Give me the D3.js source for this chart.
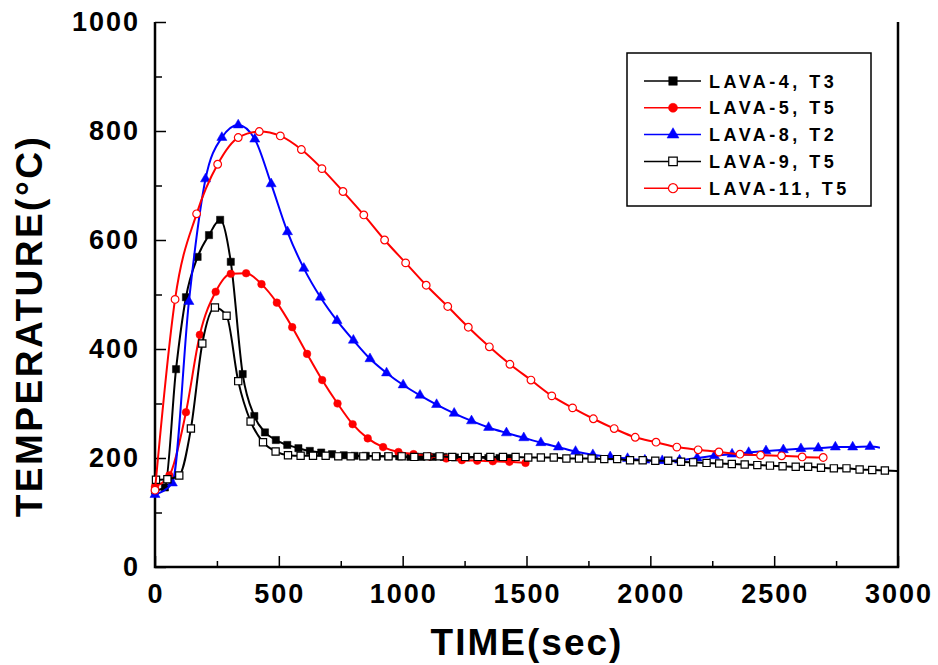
<!DOCTYPE html>
<html>
<head>
<meta charset="utf-8">
<script src="https://cdn.jsdelivr.net/npm/d3@7"></script>
<style>
  body { margin: 0; background: #fff; }
  svg { display: block; font-family: "Liberation Sans", Arial, sans-serif; font-weight: bold; }
</style>
</head>
<body>
<svg id="chart" width="938" height="665"></svg>
<script>
// values (time in sec, temperature in °C)
const lava4Time = [0, 40, 85, 125, 172, 218, 263, 306, 354, 401, 444, 488, 534, 579, 625, 671, 715, 762, 806, 851, 896, 941, 986, 1031, 1076, 1121, 1166, 1211, 1256, 1301, 1346, 1391, 1436];
const lava4Temp = [140, 146, 363, 495, 569, 609, 637, 560, 354, 277, 247, 233, 224, 218, 213, 210, 207, 205, 204, 204, 203, 203, 203, 202, 202, 202, 202, 201, 201, 201, 200, 200, 200];

const lava5Time = [0, 58, 125, 181, 245, 306, 368, 430, 492, 554, 614, 675, 737, 798, 859, 921, 983, 1044, 1106, 1176, 1239, 1301, 1364, 1431, 1496];
const lava5Temp = [148, 168, 284, 426, 505, 538, 539, 519, 485, 440, 391, 343, 300, 262, 236, 220, 211, 207, 203, 199, 196, 195, 194, 193, 191];

const lava8Time = [0, 70, 137, 204, 270, 336, 403, 469, 535, 601, 668, 735, 801, 868, 935, 1002, 1070, 1137, 1208, 1278, 1347, 1419, 1489, 1558, 1629, 1698, 1768, 1838, 1908, 1978, 2048, 2118, 2189, 2259, 2330, 2397, 2467, 2537, 2608, 2678, 2747, 2817, 2887, 2927];
const lava8Temp = [133, 154, 487, 712, 788, 811, 785, 703, 615, 548, 495, 452, 416, 382, 356, 334, 315, 298, 282, 268, 256, 246, 237, 228, 220, 212, 206, 202, 199, 196, 195, 196, 200, 204, 207, 210, 213, 215, 217, 218, 220, 220, 221, 219];

const lava9Time = [4, 50, 98, 145, 191, 242, 289, 336, 386, 436, 487, 537, 588, 638, 689, 740, 790, 841, 892, 943, 996, 1047, 1099, 1149, 1200, 1252, 1303, 1354, 1405, 1456, 1507, 1558, 1610, 1661, 1712, 1763, 1814, 1866, 1918, 1969, 2020, 2072, 2124, 2173, 2227, 2278, 2329, 2381, 2432, 2483, 2534, 2587, 2637, 2689, 2741, 2792, 2845, 2896, 2947, 2997];
const lava9Temp = [160, 161, 168, 254, 410, 476, 461, 341, 267, 229, 212, 205, 204, 204, 204, 203, 203, 203, 203, 203, 203, 202, 203, 203, 202, 202, 202, 202, 202, 202, 201, 201, 201, 199, 199, 199, 198, 198, 196, 196, 195, 195, 193, 192, 191, 190, 189, 188, 187, 186, 185, 184, 184, 182, 181, 181, 179, 178, 177, 176];

const lava11Time = [0, 81, 168, 253, 336, 421, 506, 591, 674, 759, 843, 927, 1012, 1095, 1182, 1265, 1350, 1433, 1518, 1602, 1686, 1770, 1854, 1939, 2023, 2107, 2193, 2277, 2362, 2445, 2530, 2613, 2698];
const lava11Temp = [141, 491, 648, 739, 788, 799, 791, 766, 731, 689, 646, 600, 558, 517, 478, 440, 404, 372, 343, 314, 292, 272, 254, 238, 229, 220, 215, 211, 207, 205, 204, 202, 201];

const seriesNames = ["LAVA-4, T3", "LAVA-5, T5", "LAVA-8, T2", "LAVA-9, T5", "LAVA-11, T5"];
const xTicks = [0, 500, 1000, 1500, 2000, 2500, 3000];
const yTicks = [0, 200, 400, 600, 800, 1000];

const series = [
  { name: seriesNames[0], time: lava4Time, temp: lava4Temp, color: "#000", symbol: "square", filled: true, marks: lava4Time.length },
  { name: seriesNames[1], time: lava5Time, temp: lava5Temp, color: "#ff0000", symbol: "circle", filled: true, marks: lava5Time.length },
  { name: seriesNames[2], time: lava8Time, temp: lava8Temp, color: "#0000ff", symbol: "triangle", filled: true, marks: lava8Time.length - 1 },
  { name: seriesNames[3], time: lava9Time, temp: lava9Temp, color: "#000", symbol: "square", filled: false, marks: lava9Time.length - 1 },
  { name: seriesNames[4], time: lava11Time, temp: lava11Temp, color: "#ff0000", symbol: "circle", filled: false, marks: lava11Time.length }
];

const svg = d3.select("#chart");
const margin = { top: 22, right: 40, bottom: 98, left: 155 };
const width = 938 - margin.left - margin.right;
const height = 665 - margin.top - margin.bottom;

const x = d3.scaleLinear().domain([0, 3000]).range([0, width]);
const y = d3.scaleLinear().domain([0, 1000]).range([height, 0]);

const g = svg.append("g").attr("transform", `translate(${margin.left},${margin.top})`);

// ticks point inward, long ones on the labelled values
const xMinor = d3.range(0, 3001, 250);
const yMinor = d3.range(0, 1001, 100);

g.append("g")
  .attr("transform", `translate(0,${height})`)
  .call(d3.axisBottom(x).tickValues(xMinor).tickSize(0).tickFormat(""))
  .call((a) => a.select(".domain").remove())
  .selectAll(".tick")
  .append("line")
  .attr("y1", 0)
  .attr("y2", (d) => (d % 500 === 0 ? -11 : -6))
  .attr("stroke", "#000")
  .attr("stroke-width", 1.5);

g.append("g")
  .call(d3.axisLeft(y).tickValues(yMinor).tickSize(0).tickFormat(""))
  .call((a) => a.select(".domain").remove())
  .selectAll(".tick")
  .append("line")
  .attr("x1", 0)
  .attr("x2", (d) => (d % 200 === 0 ? 11 : 7))
  .attr("stroke", "#000")
  .attr("stroke-width", 1.5);

// frame: left, bottom and right
g.append("path")
  .attr("d", `M0,0V${height}H${width}V0`)
  .attr("fill", "none")
  .attr("stroke", "#000")
  .attr("stroke-width", 2.5);

// tick labels
g.selectAll(".xlab")
  .data(xTicks)
  .join("text")
  .attr("x", (d) => x(d) + 1)
  .attr("y", height + 36)
  .attr("text-anchor", "middle")
  .attr("font-size", 27)
  .attr("letter-spacing", 2)
  .text((d) => d);

g.selectAll(".ylab")
  .data(yTicks)
  .join("text")
  .attr("x", -15)
  .attr("y", (d) => y(d) + 9)
  .attr("text-anchor", "end")
  .attr("font-size", 27)
  .attr("letter-spacing", 2)
  .text((d) => d);

// axis titles
svg.append("text")
  .attr("x", 527)
  .attr("y", 655)
  .attr("text-anchor", "middle")
  .attr("font-size", 37)
  .attr("letter-spacing", 2)
  .text("TIME(sec)");

svg.append("text")
  .attr("transform", "translate(42,326) rotate(-90)")
  .attr("text-anchor", "middle")
  .attr("font-size", 37)
  .attr("letter-spacing", 2.5)
  .text("TEMPERATURE(°C)");

const line = d3.line()
  .x((d) => x(d[0]))
  .y((d) => y(d[1]))
  .curve(d3.curveMonotoneX);

function drawSymbol(sel, s, size) {
  const type = s.symbol === "square" ? d3.symbolSquare : s.symbol === "circle" ? d3.symbolCircle : d3.symbolTriangle;
  sel.append("path")
    .attr("d", d3.symbol().type(type).size(size))
    .attr("fill", s.filled ? s.color : "#fff")
    .attr("stroke", s.color)
    .attr("stroke-width", s.filled ? 0.5 : 1.2);
}

const symbolSize = { square: 52, circle: 46, triangle: 44 };

series.forEach((s) => {
  const pts = s.time.map((t, i) => [t, s.temp[i]]);
  g.append("path")
    .datum(pts)
    .attr("fill", "none")
    .attr("stroke", s.color)
    .attr("stroke-width", 2)
    .attr("d", line);

  g.append("g")
    .selectAll("g")
    .data(pts.slice(0, s.marks))
    .join("g")
    .attr("transform", (d) => `translate(${x(d[0])},${y(d[1])})`)
    .each(function () {
      drawSymbol(d3.select(this), s, symbolSize[s.symbol]);
    });
});

// legend
const legend = svg.append("g").attr("transform", "translate(627,53)");
legend.append("rect")
  .attr("width", 244)
  .attr("height", 153)
  .attr("fill", "#fff")
  .attr("stroke", "#000")
  .attr("stroke-width", 1.5);

series.forEach((s, i) => {
  const row = legend.append("g").attr("transform", `translate(0,${28 + i * 26.8})`);
  row.append("line")
    .attr("x1", 17)
    .attr("x2", 74)
    .attr("stroke", s.color)
    .attr("stroke-width", 1.5);
  const m = row.append("g").attr("transform", "translate(46,0)");
  drawSymbol(m, s, symbolSize[s.symbol] * 1.4);
  row.append("text")
    .attr("x", 82)
    .attr("y", 6.5)
    .attr("font-size", 18)
    .attr("letter-spacing", 3.5)
    .text(s.name);
});
</script>
</body>
</html>
